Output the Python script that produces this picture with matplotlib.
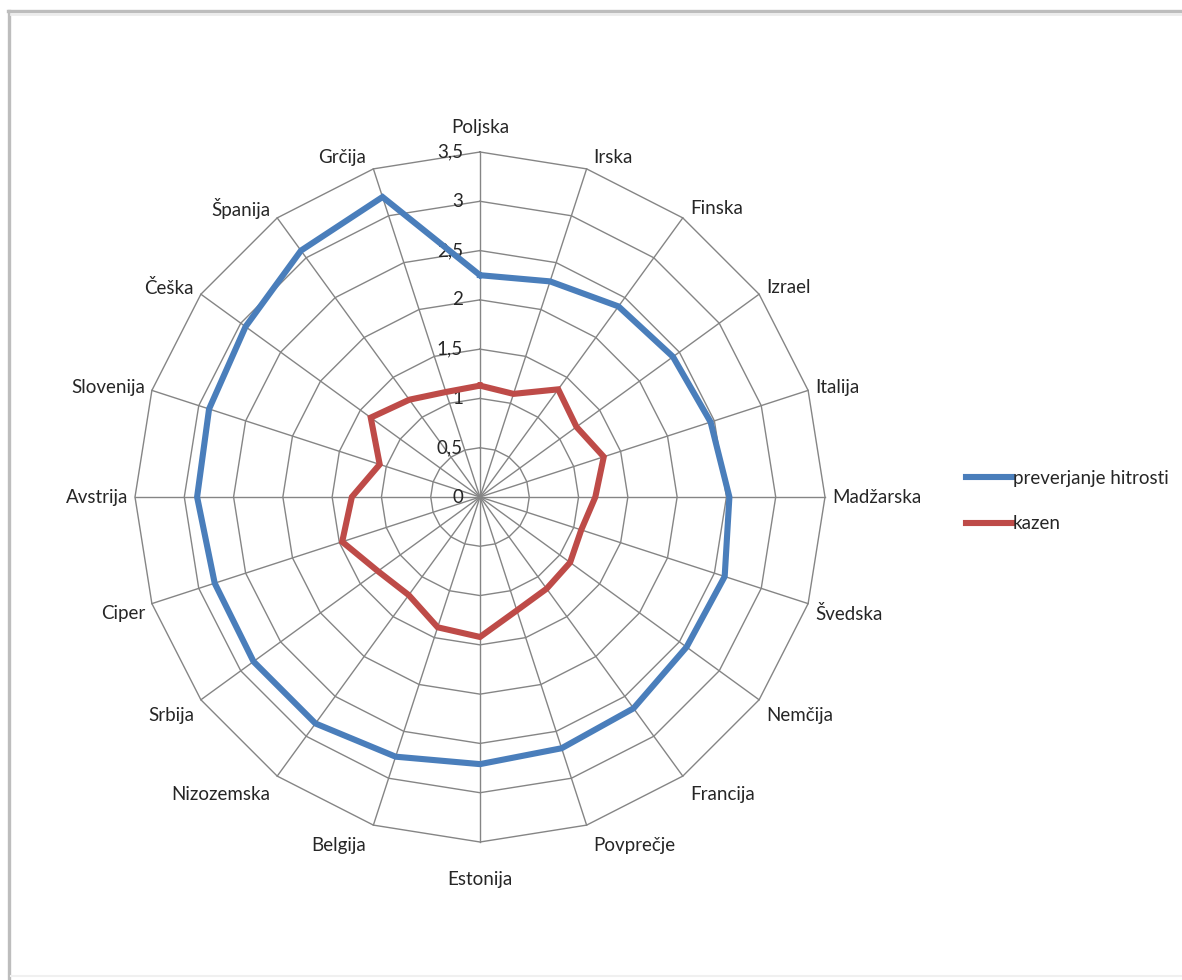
import numpy as np
import matplotlib
matplotlib.use("Agg")
import matplotlib.pyplot as plt
from matplotlib.transforms import offset_copy
from matplotlib.lines import Line2D

plt.rcParams['font.family'] = ['Lato', 'DejaVu Sans']

# Categories, clockwise from the top
categories = ['Poljska', 'Irska', 'Finska', 'Izrael', 'Italija', 'Madžarska',
              'Švedska', 'Nemčija', 'Francija', 'Povprečje', 'Estonija',
              'Belgija', 'Nizozemska', 'Srbija', 'Ciper', 'Avstrija',
              'Slovenija', 'Češka', 'Španija', 'Grčija']

preverjanje = [2.25, 2.30, 2.39, 2.42, 2.46, 2.53, 2.61, 2.59, 2.65, 2.68,
               2.71, 2.77, 2.84, 2.84, 2.83, 2.87, 2.89, 2.94, 3.09, 3.20]
kazen = [1.13, 1.10, 1.35, 1.21, 1.32, 1.17, 1.08, 1.13, 1.15, 1.21,
         1.42, 1.39, 1.23, 1.28, 1.47, 1.30, 1.07, 1.37, 1.22, 1.12]

ticks = [0, 0.5, 1, 1.5, 2, 2.5, 3, 3.5]
tick_labels = ['0', '0,5', '1', '1,5', '2', '2,5', '3', '3,5']
series_names = ['preverjanje hitrosti', 'kazen']

W, H = 1182, 980
PT = 0.72  # points per pixel at 100 dpi
fig = plt.figure(figsize=(W / 100, H / 100), dpi=100)
fig.patch.set_facecolor('white')

# outer chart frame (top and left edges visible)
frame_col = '#bdbdbd'
fig.add_artist(Line2D([8 / W, 1.0], [1 - 11 / H, 1 - 11 / H], color=frame_col,
                      lw=2.4, transform=fig.transFigure))
fig.add_artist(Line2D([8.5 / W, 8.5 / W], [0.0, 1 - 11 / H], color=frame_col,
                      lw=2.4, transform=fig.transFigure))
fig.add_artist(Line2D([11 / W, 1.0], [1 - 14 / H, 1 - 14 / H], color='#ececec',
                      lw=2.0, transform=fig.transFigure))
fig.add_artist(Line2D([11 / W, 1.0], [4 / H, 4 / H], color='#f0f0f0',
                      lw=1.5, transform=fig.transFigure))

cx, cy, R = 480, 497, 345
ax = fig.add_axes([(cx - R) / W, (H - cy - R) / H, 2 * R / W, 2 * R / H],
                  projection='polar')
ax.set_theta_zero_location('N')
ax.set_theta_direction(-1)
rmax = ticks[-1]
ax.set_ylim(0, rmax)
ax.axis('off')

n = len(categories)
theta = np.arange(n) * 2 * np.pi / n
theta_closed = np.append(theta, theta[0])

grid_col = '#858585'
# polygonal rings
for t in ticks[1:]:
    ax.plot(theta_closed, np.full(n + 1, t), color=grid_col, lw=1.0,
            clip_on=False, zorder=1)
# spokes
for th in theta:
    ax.plot([th, th], [0, rmax], color=grid_col, lw=1.0, clip_on=False, zorder=1)

blue = '#4a7ebb'
red = '#be4b48'
l1, = ax.plot(theta_closed, np.append(preverjanje, preverjanje[0]), color=blue,
              lw=4.4, solid_joinstyle='miter', clip_on=False, zorder=3)
l2, = ax.plot(theta_closed, np.append(kazen, kazen[0]), color=red,
              lw=4.4, solid_joinstyle='miter', clip_on=False, zorder=3)

txt_col = '#262626'
fs = 13.5
# radial tick labels along the first spoke
for t, lab in zip(ticks, tick_labels):
    tr = offset_copy(ax.transData, fig=fig, x=-17 * PT, y=0, units='points')
    ax.text(0, t, lab, transform=tr, ha='right', va='center', fontsize=fs,
            color=txt_col, zorder=2)

# category labels around the outer ring
for th, name in zip(theta, categories):
    s, c = np.sin(th), np.cos(th)
    if abs(s) < 0.2:
        ha = 'center'
        dx = 0.0
        dy = 25.0 if c > 0 else -37.0
    else:
        ha = 'left' if s > 0 else 'right'
        dx = 7.0 * np.sign(s)
        if c >= 0:
            dy = 12.5 * c ** 1.3
        else:
            dy = -21.0 * abs(c) ** 0.6
    tr = offset_copy(ax.transData, fig=fig, x=dx * PT, y=dy * PT, units='points')
    ax.text(th, rmax, name, transform=tr, ha=ha, va='center', fontsize=fs,
            color=txt_col)

fig.legend([l1, l2], series_names, loc='center left',
           bbox_to_anchor=(957 / W, 1 - 501 / H), frameon=False,
           handlelength=2.45, handletextpad=0.02, labelspacing=1.5,
           borderpad=0, fontsize=fs, labelcolor=txt_col)

fig.savefig('out.png', dpi=100, facecolor='white')
